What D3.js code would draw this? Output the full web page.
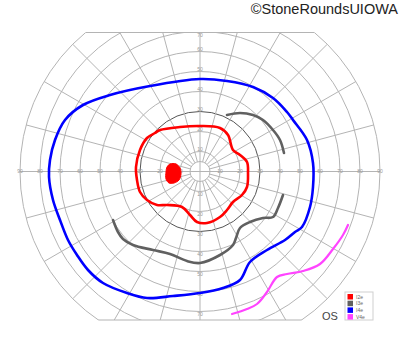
<!DOCTYPE html>
<html>
<head>
<meta charset="utf-8">
<script src="https://cdn.jsdelivr.net/npm/d3@7"></script>
<style>
  body { margin: 0; background: #fff; }
  svg { display: block; font-family: "Liberation Sans", Arial, sans-serif; }
</style>
</head>
<body>
<div id="chart"></div>
<script>
// isopters, in visual field degrees [x, y] (x right, y up)
var isopterI2e = [[-20, 20.75], [-10, 22.25], [0, 22.75], [10, 21.75], [14, 18.25], [16.5, 10.75], [20, 8.25], [23.5, 4.75], [24, -0.75], [23.5, -7.75], [21, -11.75], [16.5, -15.25], [13.5, -19.25], [10, -22.75], [3.5, -25.75], [-1.5, -25.25], [-5, -21.75], [-9, -17.75], [-16.5, -16.75], [-21.5, -16.75], [-26.5, -14.25], [-30, -10.25], [-31.5, -4.25], [-32, 2.25], [-30, 10.75], [-26.5, 16.75], [-22.5, 19.25]];
var blindSpot = [[-15, 3.75], [-12, 3.75], [-10, 1.75], [-9.5, -1.25], [-10.5, -4.25], [-13, -5.75], [-15.5, -5.75], [-17, -3.75], [-17, -0.25], [-16.5, 2.25]];
var isopterI3eUpper = [[13.5, 28.25], [20, 29.25], [26.5, 28.25], [31.5, 25.75], [36.5, 20.75], [40, 15.75], [42, 9.25]];
var isopterI3eLower = [[41.5, -11.75], [39, -18.25], [36.5, -22.75], [31.5, -23.25], [25, -25.25], [20, -28.25], [18, -33.25], [16.5, -36.75], [10, -41.75], [0, -45.75], [-6.5, -44.75], [-15, -41.25], [-23.5, -39.25], [-33.5, -36.75], [-38.5, -33.75], [-41, -30.25], [-43.5, -24.25]];
var isopterI4e = [[-75.5, -2.75], [-75, 5.75], [-72.5, 15.75], [-67.5, 25.75], [-58.5, 33.25], [-45, 38.25], [-25, 42.75], [0, 46.25], [13.5, 45.25], [26.5, 42.25], [36.5, 36.75], [43.5, 29.75], [46.5, 25.75], [53.5, 15.75], [56.5, 4.25], [56.5, -7.75], [55, -17.75], [51, -27.75], [47.5, -30.25], [42.5, -34.25], [33.5, -39.25], [25, -45.25], [20, -54.25], [11.5, -58.25], [0, -60.75], [-13.5, -62.25], [-26.5, -63.25], [-36.5, -60.75], [-48.5, -55.75], [-56, -49.25], [-61.5, -41.75], [-66, -34.25], [-70, -24.25], [-73.5, -14.25]];
var isopterV4e = [[74, -26.75], [71.5, -31.75], [66.5, -38.75], [60, -46.25], [51.5, -49.75], [43.5, -51.25], [38.5, -52.75], [33.5, -60.25], [28.5, -66.25], [23.5, -68.75], [16, -71.25]];

var rings = [5, 10, 20, 30, 40, 50, 60, 70, 80, 90];
var meridians = d3.range(0, 360, 15);
var hLabels = [10, 20, 30, 40, 50, 60, 70, 80, 90];
var vLabels = [10, 20, 30, 40, 50, 60, 70];
var legendNames = ['I2e', 'I3e', 'I4e', 'V4e'];
var legendColors = ['#ff0000', '#606060', '#0000ff', '#ff44ff'];

var width = 400, height = 352;
var cx = 200, cy = 171.5;
var fieldTop = 32.5, fieldBottom = 320;

var r = d3.scaleLinear().domain([0, 90]).range([0, 180]);
var x = d3.scaleLinear().domain([-90, 90]).range([cx - r(90), cx + r(90)]);
var y = d3.scaleLinear().domain([-90, 90]).range([cy + r(90), cy - r(90)]);

var svg = d3.select('#chart').append('svg').attr('width', width).attr('height', height);

svg.append('defs').append('clipPath').attr('id', 'field')
    .append('rect').attr('x', 0).attr('y', fieldTop).attr('width', width).attr('height', fieldBottom - fieldTop);

var grid = svg.append('g').attr('clip-path', 'url(#field)');

grid.selectAll('circle.ring').data(rings).enter().append('circle')
    .attr('cx', cx).attr('cy', cy).attr('r', d => r(d))
    .attr('fill', 'none')
    .attr('stroke', d => d == 30 ? '#555' : '#b4b4b4')
    .attr('stroke-width', 1);

grid.selectAll('line.meridian').data(meridians).enter().append('line')
    .attr('x1', d => cx + r(d % 90 == 0 ? 0 : 5) * Math.cos(d * Math.PI / 180))
    .attr('y1', d => cy - r(d % 90 == 0 ? 0 : 5) * Math.sin(d * Math.PI / 180))
    .attr('x2', d => cx + r(90) * Math.cos(d * Math.PI / 180))
    .attr('y2', d => cy - r(90) * Math.sin(d * Math.PI / 180))
    .attr('stroke', '#b4b4b4').attr('stroke-width', 1);

// flat top and bottom edges of the form
[fieldTop, fieldBottom].forEach(function (edge) {
    let half = Math.sqrt(r(90) * r(90) - (edge - cy) * (edge - cy));
    svg.append('line')
        .attr('x1', cx - half).attr('x2', cx + half)
        .attr('y1', edge).attr('y2', edge)
        .attr('stroke', '#b4b4b4').attr('stroke-width', 1.2);
});

var labels = svg.append('g').attr('font-size', 5).attr('fill', '#999').attr('text-anchor', 'middle');
hLabels.forEach(function (d) {
    [-1, 1].forEach(function (s) {
        labels.append('text').attr('x', x(s * d)).attr('y', cy + 1.8).text(d);
    });
});
vLabels.forEach(function (d) {
    labels.append('text').attr('x', cx).attr('y', Math.max(y(d) - 0.5, fieldTop + 4)).text(d);
    labels.append('text').attr('x', cx).attr('y', y(-d) + 4).text(d);
});

var line = d3.line().x(d => x(d[0])).y(d => y(d[1])).curve(d3.curveCatmullRom.alpha(0.5));
var loop = d3.line().x(d => x(d[0])).y(d => y(d[1])).curve(d3.curveCatmullRomClosed.alpha(0.5));

var plots = svg.append('g').attr('fill', 'none').attr('stroke-linejoin', 'round').attr('stroke-linecap', 'round');
plots.append('path').attr('d', loop(isopterI4e)).attr('stroke', legendColors[2]).attr('stroke-width', 2.6);
plots.append('path').attr('d', line(isopterI3eUpper)).attr('stroke', legendColors[1]).attr('stroke-width', 2.6);
plots.append('path').attr('d', line(isopterI3eLower)).attr('stroke', legendColors[1]).attr('stroke-width', 2.6);
plots.append('path').attr('d', loop(isopterI2e)).attr('stroke', legendColors[0]).attr('stroke-width', 2.6);
plots.append('path').attr('d', loop(blindSpot)).attr('stroke', legendColors[0]).attr('stroke-width', 1).attr('fill', legendColors[0]);
plots.append('path').attr('d', line(isopterV4e)).attr('stroke', legendColors[3]).attr('stroke-width', 2.2);

// legend
var legend = svg.append('g').attr('transform', 'translate(345,292)');
legend.append('rect').attr('width', 28).attr('height', 28).attr('fill', '#fff').attr('stroke', '#cfcfcf');
legendNames.forEach(function (name, i) {
    legend.append('rect').attr('x', 2.5).attr('y', 2 + i * 6.7).attr('width', 5.5).attr('height', 5.5).attr('fill', legendColors[i]);
    legend.append('text').attr('x', 11).attr('y', 6.6 + i * 6.7).attr('font-size', 5).attr('fill', '#666').text(name);
});

svg.append('text').attr('x', 322).attr('y', 320).attr('font-size', 11).attr('fill', '#444').text('OS');

svg.append('text').attr('x', 398).attr('y', 14).attr('text-anchor', 'end')
    .attr('font-size', 14.5).attr('fill', '#222').text('\u00a9StoneRoundsUIOWA');
</script>
</body>
</html>
